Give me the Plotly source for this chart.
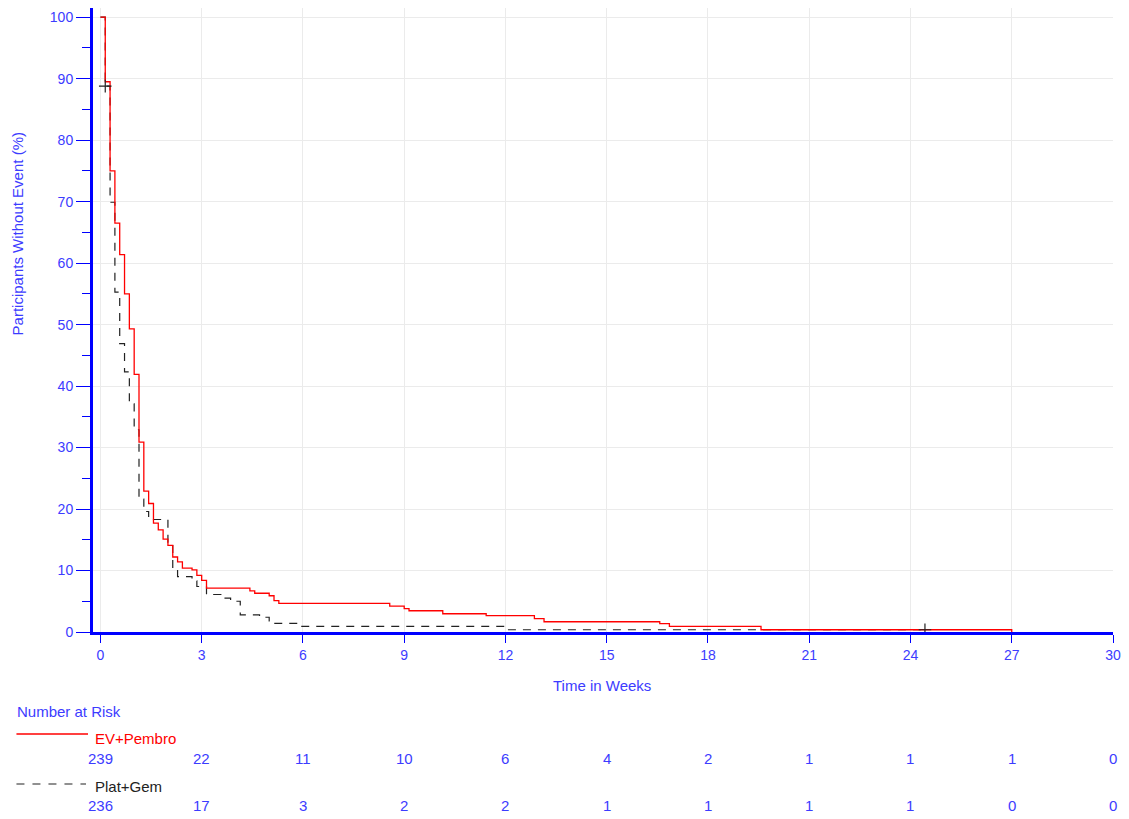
import plotly.graph_objects as go

# ---------------- data ----------------
red_name = "EV+Pembro"
black_name = "Plat+Gem"

red_days = [0, 1, 2, 3, 4, 5, 6, 7, 8, 9, 10, 11, 12, 13, 14, 15, 16, 17, 19, 20, 21, 22,
            31, 32, 35, 36, 37, 60, 63, 64, 71, 80, 90, 92, 116, 118, 137, 189]
red_vals = [100, 89.5, 75.0, 66.5, 61.4, 55.0, 49.3, 41.9, 30.9, 22.9, 20.9, 17.7, 16.6, 15.1,
            14.1, 12.2, 11.4, 10.4, 10.1, 9.2, 8.4, 7.15, 6.7, 6.3, 5.9, 5.1, 4.65, 4.2, 3.8,
            3.46, 2.97, 2.65, 2.16, 1.67, 1.35, 0.91, 0.37, 0.0]

black_days = [0, 1, 2, 3, 4, 5, 6, 7, 8, 9, 10, 11, 14, 15, 16, 19, 20, 22, 25, 27, 29, 33,
              35, 36, 41, 84, 171]
black_vals = [100, 88.8, 69.9, 55.3, 46.9, 42.3, 37.1, 32.9, 21.6, 19.6, 18.8, 18.3, 14.6,
              10.3, 9.0, 8.3, 7.4, 6.1, 5.5, 5.0, 2.8, 2.4, 1.8, 1.4, 0.91, 0.37, 0.37]

black_censor_days = [1, 171]
black_censor_vals = [88.8, 0.37]

risk_weeks = [0, 3, 6, 9, 12, 15, 18, 21, 24, 27, 30]
red_risk = [239, 22, 11, 10, 6, 4, 2, 1, 1, 1, 0]
black_risk = [236, 17, 3, 2, 2, 1, 1, 1, 1, 0, 0]

x_title = "Time in Weeks"
y_title = "Participants Without Event (%)"
risk_title = "Number at Risk"

# ---------------- styling ----------------
BLUE = "#0000ff"
TXT = "#3c3cff"
FONT = "Liberation Sans, Arial, sans-serif"
W, H = 1129, 819
L, R, T, B = 93, 1119, 8, 632


def pxx(xp):
    return (xp - L) / (R - L)


def pxy(yp):
    return (B - yp) / (B - T)


def to_weeks(days):
    return [d / 7.0 for d in days]


fig = go.Figure()

fig.add_trace(go.Scatter(
    x=to_weeks(black_days), y=black_vals, mode="lines", line_shape="hv",
    line=dict(color="#222222", width=1.2, dash="8px,7px"), name=black_name,
    showlegend=False, hoverinfo="skip"))
fig.add_trace(go.Scatter(
    x=to_weeks(red_days), y=red_vals, mode="lines", line_shape="hv",
    line=dict(color="#ff0000", width=1.3), name=red_name,
    showlegend=False, hoverinfo="skip"))
fig.add_trace(go.Scatter(
    x=to_weeks(black_censor_days), y=black_censor_vals, mode="markers",
    marker=dict(symbol="cross-thin", size=9, line=dict(color="#222222", width=1.2)),
    showlegend=False, hoverinfo="skip"))

annotations = []
annotations.append(dict(text=y_title, textangle=-90, xref="paper", yref="paper",
                        x=pxx(17), y=pxy(234), showarrow=False,
                        font=dict(family=FONT, size=15, color=TXT),
                        xanchor="center", yanchor="middle"))
annotations.append(dict(text=x_title, xref="paper", yref="paper",
                        x=pxx(605), y=pxy(685), showarrow=False,
                        font=dict(family=FONT, size=15, color=TXT),
                        xanchor="center", yanchor="middle"))
annotations.append(dict(text=risk_title, xref="paper", yref="paper",
                        x=pxx(15), y=pxy(711), showarrow=False,
                        font=dict(family=FONT, size=15, color=TXT),
                        xanchor="left", yanchor="middle"))
annotations.append(dict(text=red_name, xref="paper", yref="paper",
                        x=pxx(93), y=pxy(738), showarrow=False,
                        font=dict(family=FONT, size=15, color="#ff0000"),
                        xanchor="left", yanchor="middle"))
annotations.append(dict(text=black_name, xref="paper", yref="paper",
                        x=pxx(93), y=pxy(786), showarrow=False,
                        font=dict(family=FONT, size=15, color="#222222"),
                        xanchor="left", yanchor="middle"))
for wk, n in zip(risk_weeks, red_risk):
    annotations.append(dict(text=str(n), xref="x", yref="paper", x=wk, y=pxy(758),
                            showarrow=False, font=dict(family=FONT, size=15, color=TXT),
                            xanchor="center", yanchor="middle"))
for wk, n in zip(risk_weeks, black_risk):
    annotations.append(dict(text=str(n), xref="x", yref="paper", x=wk, y=pxy(806),
                            showarrow=False, font=dict(family=FONT, size=15, color=TXT),
                            xanchor="center", yanchor="middle"))

shapes = [
    dict(type="line", xref="paper", yref="paper", x0=pxx(16), x1=pxx(88),
         y0=pxy(734), y1=pxy(734), line=dict(color="#ff0000", width=1.3)),
    dict(type="line", xref="paper", yref="paper", x0=pxx(16), x1=pxx(86),
         y0=pxy(784), y1=pxy(784), line=dict(color="#222222", width=1.2, dash="8px,8px")),
]

x0_val = -0.22
fig.update_layout(
    width=W, height=H,
    margin=dict(l=L, r=W - R, t=T, b=H - B, pad=0),
    plot_bgcolor="white", paper_bgcolor="white",
    font=dict(family=FONT, size=14, color=TXT),
    xaxis=dict(range=[x0_val, 30], tickmode="array", tickvals=risk_weeks,
               ticktext=[str(v) for v in risk_weeks],
               showgrid=True, gridcolor="#ebebeb", gridwidth=1, zeroline=False,
               showline=True, linecolor=BLUE, linewidth=3,
               ticks="outside", ticklen=8, tickwidth=1, tickcolor=BLUE,
               tickfont=dict(family=FONT, size=14, color=TXT)),
    yaxis=dict(range=[0, 101.5], tickmode="linear", tick0=0, dtick=10,
               showgrid=True, gridcolor="#ebebeb", gridwidth=1, zeroline=False,
               showline=True, linecolor=BLUE, linewidth=3,
               ticks="outside", ticklen=14, tickwidth=1, tickcolor=BLUE,
               tickfont=dict(family=FONT, size=14, color=TXT),
               minor=dict(dtick=5, tick0=0, ticks="outside", ticklen=8, tickwidth=1,
                          tickcolor=BLUE, showgrid=False)),
    annotations=annotations, shapes=shapes,
)

fig.write_html("out.html")
